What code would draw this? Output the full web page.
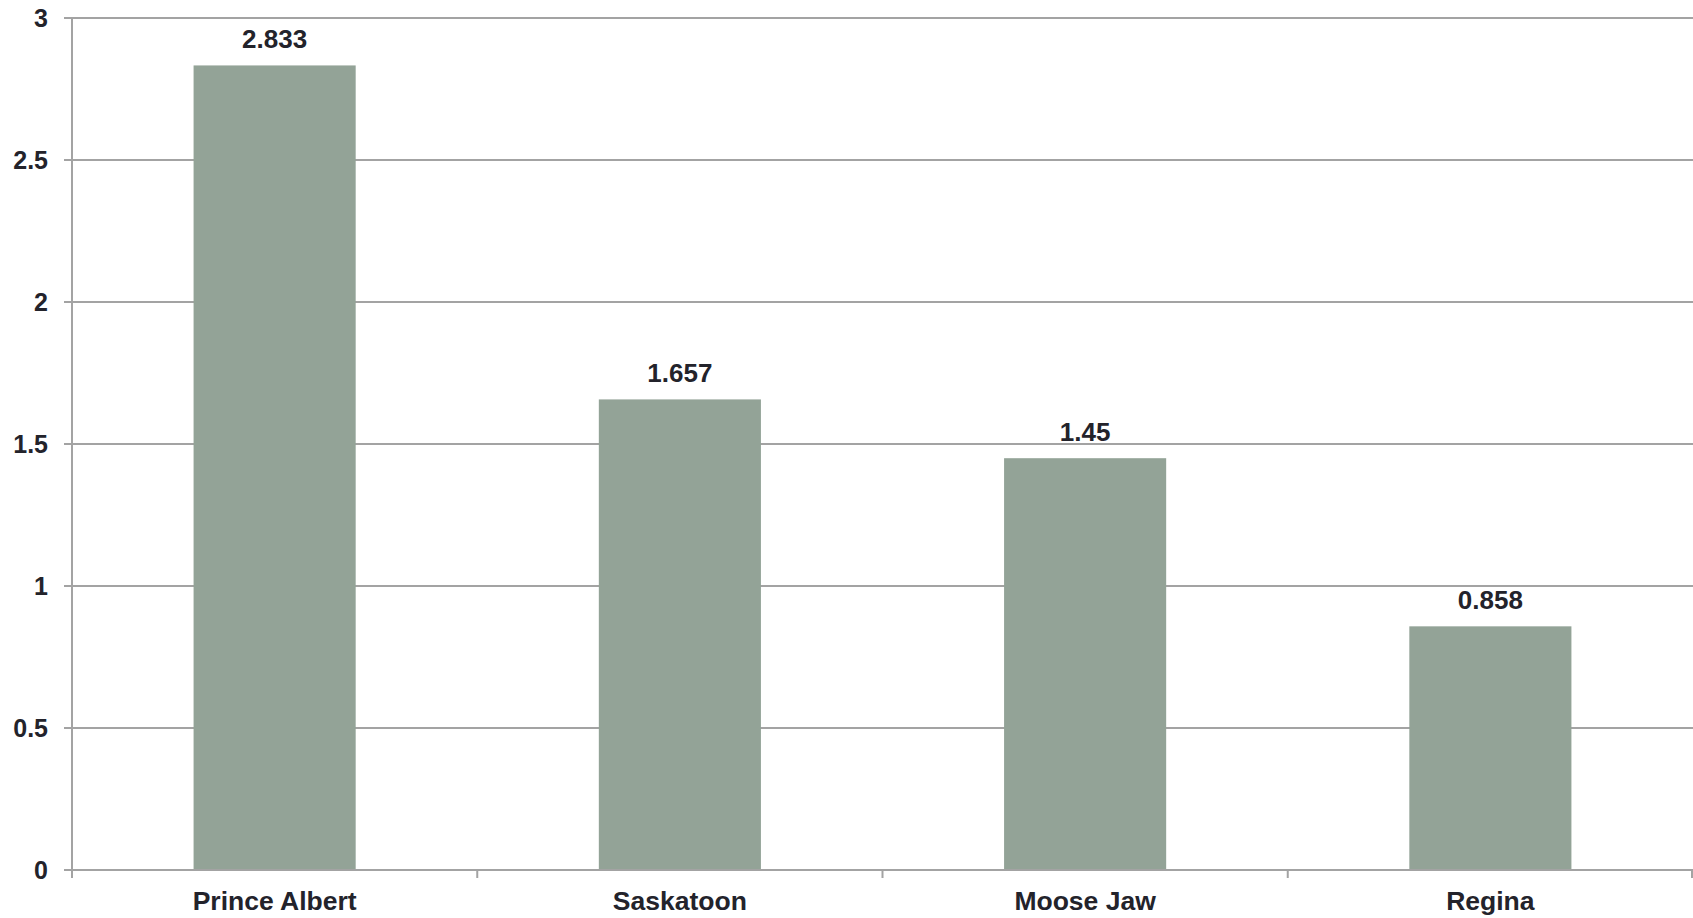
<!DOCTYPE html>
<html>
<head>
<meta charset="utf-8">
<script src="https://cdn.jsdelivr.net/npm/d3@7"></script>
<style>
  body { margin: 0; background: #fff; }
  text { font-family: 'Liberation Sans', Arial, sans-serif; font-weight: bold; fill: #23232b; }
</style>
</head>
<body>
<div id="chart"></div>
<script>
const categories = ['Prince Albert', 'Saskatoon', 'Moose Jaw', 'Regina']
const values = [2.833, 1.657, 1.45, 0.858]
const yTicks = [0, 0.5, 1, 1.5, 2, 2.5, 3]

const margin = { top: 18, left: 72, right: 0, bottom: 48 }
const W = 1693
const H = 918
const width = W - margin.left - margin.right
const height = H - margin.top - margin.bottom

const svg = d3
  .select('#chart')
  .append('svg')
  .attr('width', W)
  .attr('height', H)
const g = svg
  .append('g')
  .attr('transform', `translate(${margin.left},${margin.top})`)

const x = d3
  .scaleBand()
  .domain(categories)
  .range([0, width])
  .paddingInner(0.6)
  .paddingOuter(0.3)

const y = d3
  .scaleLinear()
  .domain([0, 3])
  .range([height, 0])

// gridlines + y ticks
g.selectAll('.grid')
  .data(yTicks)
  .enter()
  .append('line')
  .attr('x1', -8)
  .attr('x2', width)
  .attr('y1', d => y(d))
  .attr('y2', d => y(d))
  .attr('stroke', '#a3a3a3')
  .attr('stroke-width', 2)

g.selectAll('.ylab')
  .data(yTicks)
  .enter()
  .append('text')
  .attr('x', -24)
  .attr('y', d => y(d))
  .attr('dy', '0.36em')
  .attr('text-anchor', 'end')
  .attr('font-size', 25)
  .text(d => d)

// bars
g.selectAll('.bar')
  .data(values)
  .enter()
  .append('rect')
  .attr('x', (d, i) => x(categories[i]))
  .attr('y', d => y(d))
  .attr('width', x.bandwidth())
  .attr('height', d => height - y(d))
  .attr('fill', '#93a397')

g.selectAll('.val')
  .data(values)
  .enter()
  .append('text')
  .attr('x', (d, i) => x(categories[i]) + x.bandwidth() / 2)
  .attr('y', d => y(d) - 17)
  .attr('text-anchor', 'middle')
  .attr('font-size', 26)
  .text(d => d)

// axes lines
g.append('line')
  .attr('x1', 0).attr('x2', 0)
  .attr('y1', 0).attr('y2', height + 8)
  .attr('stroke', '#a3a3a3')
  .attr('stroke-width', 2)

g.append('line')
  .attr('x1', 0).attr('x2', width)
  .attr('y1', height).attr('y2', height)
  .attr('stroke', '#a3a3a3')
  .attr('stroke-width', 2)

const step = x.step()
g.selectAll('.xtick')
  .data(d3.range(1, categories.length + 1))
  .enter()
  .append('line')
  .attr('x1', i => Math.min(i * step, width - 1))
  .attr('x2', i => Math.min(i * step, width - 1))
  .attr('y1', height)
  .attr('y2', height + 8)
  .attr('stroke', '#a3a3a3')
  .attr('stroke-width', 2)

g.selectAll('.xlab')
  .data(categories)
  .enter()
  .append('text')
  .attr('x', d => x(d) + x.bandwidth() / 2)
  .attr('y', height + 40)
  .attr('text-anchor', 'middle')
  .attr('font-size', 26.5)
  .text(d => d)
</script>
</body>
</html>
